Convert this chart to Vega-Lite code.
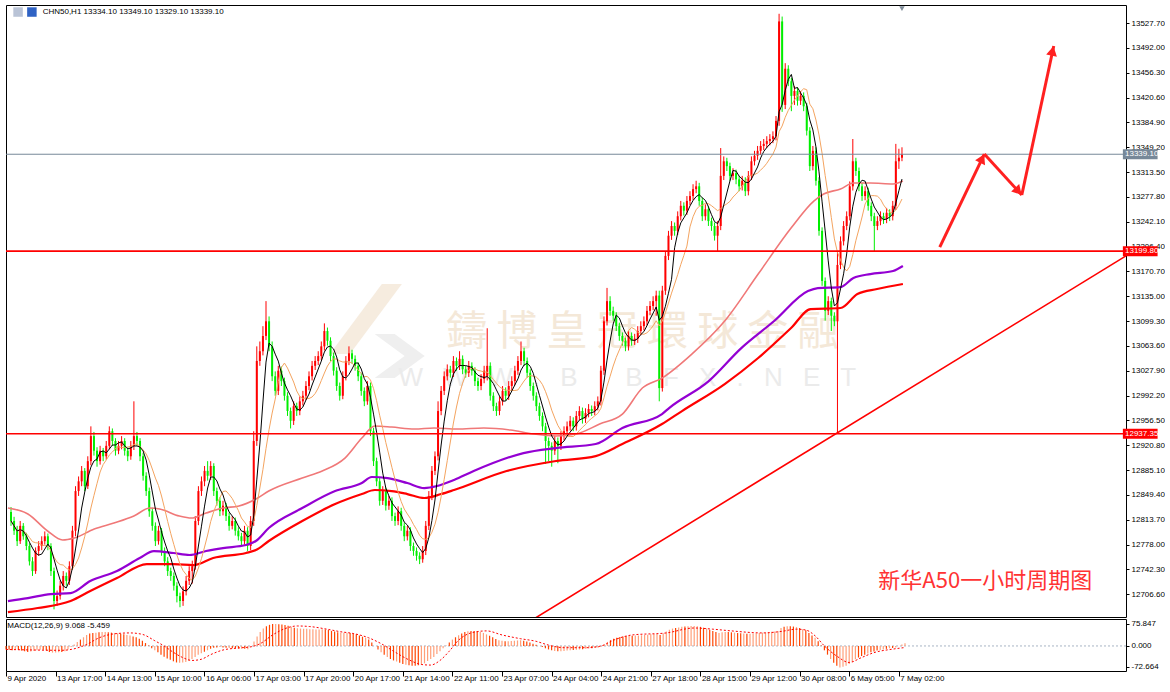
{
"$schema":"https://vega.github.io/schema/vega-lite/v6.json",
"background":"#ffffff",
"padding":{"left":3,"top":4,"right":0,"bottom":0},
"spacing":0,
"config":{"view":{"stroke":"#000000","strokeWidth":1},"axis":{"labelFont":"Liberation Sans","labelFontSize":8,"labelColor":"#000000","tickColor":"#000000","domainColor":"#000000","grid":false}},
"datasets":{
"bars":[
{"i":0,"o":12825,"h":12832,"l":12805,"c":12812,"m":-12},{"i":1,"o":12812,"h":12818,"l":12792,"c":12798,"m":-13},{"i":2,"o":12798,"h":12805,"l":12776,"c":12783,"m":-15},{"i":3,"o":12783,"h":12812,"l":12779,"c":12805,"m":-13},{"i":4,"o":12805,"h":12809,"l":12785,"c":12790,"m":-14},{"i":5,"o":12790,"h":12795,"l":12770,"c":12776,"m":-16},{"i":6,"o":12776,"h":12780,"l":12748,"c":12754,"m":-18},{"i":7,"o":12754,"h":12760,"l":12733,"c":12740,"m":-21},{"i":8,"o":12740,"h":12774,"l":12736,"c":12769,"m":-19},{"i":9,"o":12769,"h":12783,"l":12762,"c":12776,"m":-17},
{"i":10,"o":12776,"h":12790,"l":12770,"c":12783,"m":-15},{"i":11,"o":12783,"h":12797,"l":12778,"c":12790,"m":-13},{"i":12,"o":12790,"h":12794,"l":12770,"c":12776,"m":-13},{"i":13,"o":12776,"h":12780,"l":12733,"c":12740,"m":-16},{"i":14,"o":12740,"h":12745,"l":12685,"c":12697,"m":-21},{"i":15,"o":12697,"h":12712,"l":12690,"c":12704,"m":-23},{"i":16,"o":12704,"h":12726,"l":12699,"c":12719,"m":-23},{"i":17,"o":12719,"h":12740,"l":12712,"c":12733,"m":-22},{"i":18,"o":12733,"h":12738,"l":12719,"c":12726,"m":-21},{"i":19,"o":12726,"h":12754,"l":12720,"c":12747,"m":-18},
{"i":20,"o":12747,"h":12805,"l":12742,"c":12798,"m":-12},{"i":21,"o":12798,"h":12862,"l":12790,"c":12855,"m":-4},{"i":22,"o":12855,"h":12876,"l":12848,"c":12869,"m":5},{"i":23,"o":12869,"h":12891,"l":12862,"c":12884,"m":14},{"i":24,"o":12884,"h":12888,"l":12855,"c":12862,"m":22},{"i":25,"o":12862,"h":12905,"l":12858,"c":12898,"m":30},{"i":26,"o":12898,"h":12948,"l":12892,"c":12934,"m":38},{"i":27,"o":12934,"h":12940,"l":12906,"c":12913,"m":43},{"i":28,"o":12913,"h":12918,"l":12890,"c":12898,"m":45},{"i":29,"o":12898,"h":12920,"l":12893,"c":12913,"m":46},
{"i":30,"o":12913,"h":12917,"l":12898,"c":12905,"m":47},{"i":31,"o":12905,"h":12927,"l":12900,"c":12920,"m":48},{"i":32,"o":12920,"h":12948,"l":12915,"c":12941,"m":48},{"i":33,"o":12941,"h":12945,"l":12920,"c":12927,"m":47},{"i":34,"o":12927,"h":12931,"l":12906,"c":12913,"m":46},{"i":35,"o":12913,"h":12927,"l":12908,"c":12920,"m":45},{"i":36,"o":12920,"h":12934,"l":12915,"c":12927,"m":44},{"i":37,"o":12927,"h":12931,"l":12906,"c":12913,"m":42},{"i":38,"o":12913,"h":12918,"l":12898,"c":12905,"m":40},{"i":39,"o":12905,"h":12927,"l":12900,"c":12920,"m":38},
{"i":40,"o":12920,"h":12984,"l":12914,"c":12934,"m":36},{"i":41,"o":12934,"h":12940,"l":12920,"c":12927,"m":33},{"i":42,"o":12927,"h":12931,"l":12898,"c":12905,"m":30},{"i":43,"o":12905,"h":12910,"l":12870,"c":12877,"m":25},{"i":44,"o":12877,"h":12882,"l":12848,"c":12855,"m":18},{"i":45,"o":12855,"h":12860,"l":12818,"c":12826,"m":10},{"i":46,"o":12826,"h":12831,"l":12798,"c":12805,"m":2},{"i":47,"o":12805,"h":12810,"l":12776,"c":12783,"m":-8},{"i":48,"o":12783,"h":12805,"l":12778,"c":12798,"m":-15},{"i":49,"o":12798,"h":12802,"l":12762,"c":12769,"m":-22},
{"i":50,"o":12769,"h":12774,"l":12747,"c":12754,"m":-30},{"i":51,"o":12754,"h":12760,"l":12733,"c":12740,"m":-37},{"i":52,"o":12740,"h":12745,"l":12726,"c":12733,"m":-43},{"i":53,"o":12733,"h":12738,"l":12712,"c":12719,"m":-48},{"i":54,"o":12719,"h":12724,"l":12695,"c":12704,"m":-53},{"i":55,"o":12704,"h":12709,"l":12688,"c":12697,"m":-57},{"i":56,"o":12697,"h":12718,"l":12690,"c":12711,"m":-58},{"i":57,"o":12711,"h":12733,"l":12705,"c":12726,"m":-57},{"i":58,"o":12726,"h":12747,"l":12720,"c":12740,"m":-55},{"i":59,"o":12740,"h":12755,"l":12722,"c":12747,"m":-52},
{"i":60,"o":12747,"h":12819,"l":12742,"c":12812,"m":-45},{"i":61,"o":12812,"h":12862,"l":12806,"c":12855,"m":-38},{"i":62,"o":12855,"h":12876,"l":12848,"c":12869,"m":-30},{"i":63,"o":12869,"h":12891,"l":12862,"c":12884,"m":-25},{"i":64,"o":12884,"h":12898,"l":12870,"c":12877,"m":-20},{"i":65,"o":12877,"h":12898,"l":12871,"c":12891,"m":-15},{"i":66,"o":12891,"h":12895,"l":12848,"c":12855,"m":-10},{"i":67,"o":12855,"h":12860,"l":12834,"c":12841,"m":-6},{"i":68,"o":12841,"h":12846,"l":12819,"c":12826,"m":-5},{"i":69,"o":12826,"h":12841,"l":12820,"c":12834,"m":-4},
{"i":70,"o":12834,"h":12838,"l":12812,"c":12819,"m":-5},{"i":71,"o":12819,"h":12824,"l":12798,"c":12805,"m":-6},{"i":72,"o":12805,"h":12819,"l":12800,"c":12812,"m":-7},{"i":73,"o":12812,"h":12817,"l":12791,"c":12798,"m":-8},{"i":74,"o":12798,"h":12803,"l":12784,"c":12790,"m":-8},{"i":75,"o":12790,"h":12795,"l":12776,"c":12783,"m":-9},{"i":76,"o":12783,"h":12805,"l":12778,"c":12798,"m":-10},{"i":77,"o":12798,"h":12803,"l":12769,"c":12776,"m":-10},{"i":78,"o":12776,"h":12819,"l":12770,"c":12812,"m":-11},{"i":79,"o":12812,"h":12941,"l":12805,"c":12927,"m":-2},
{"i":80,"o":12927,"h":13063,"l":12920,"c":13042,"m":15},{"i":81,"o":13042,"h":13070,"l":13035,"c":13056,"m":33},{"i":82,"o":13056,"h":13092,"l":13050,"c":13078,"m":48},{"i":83,"o":13078,"h":13128,"l":13072,"c":13099,"m":60},{"i":84,"o":13099,"h":13106,"l":13056,"c":13063,"m":68},{"i":85,"o":13063,"h":13070,"l":13013,"c":13020,"m":73},{"i":86,"o":13020,"h":13027,"l":12992,"c":12999,"m":76},{"i":87,"o":12999,"h":13035,"l":12993,"c":13028,"m":76},{"i":88,"o":13028,"h":13034,"l":13006,"c":13013,"m":75},{"i":89,"o":13013,"h":13018,"l":12985,"c":12992,"m":74},
{"i":90,"o":12992,"h":12997,"l":12963,"c":12970,"m":72},{"i":91,"o":12970,"h":12975,"l":12945,"c":12956,"m":70},{"i":92,"o":12956,"h":12984,"l":12950,"c":12977,"m":66},{"i":93,"o":12977,"h":12982,"l":12963,"c":12970,"m":63},{"i":94,"o":12970,"h":12991,"l":12964,"c":12984,"m":61},{"i":95,"o":12984,"h":12999,"l":12978,"c":12992,"m":60},{"i":96,"o":12992,"h":13013,"l":12986,"c":13006,"m":59},{"i":97,"o":13006,"h":13027,"l":13000,"c":13020,"m":59},{"i":98,"o":13020,"h":13042,"l":13014,"c":13035,"m":58},{"i":99,"o":13035,"h":13049,"l":13029,"c":13042,"m":58},
{"i":100,"o":13042,"h":13056,"l":13036,"c":13049,"m":57},{"i":101,"o":13049,"h":13070,"l":13043,"c":13063,"m":57},{"i":102,"o":13063,"h":13096,"l":13057,"c":13085,"m":58},{"i":103,"o":13085,"h":13090,"l":13064,"c":13071,"m":57},{"i":104,"o":13071,"h":13076,"l":13042,"c":13049,"m":55},{"i":105,"o":13049,"h":13054,"l":13021,"c":13028,"m":52},{"i":106,"o":13028,"h":13033,"l":12999,"c":13006,"m":50},{"i":107,"o":13006,"h":13011,"l":12985,"c":12992,"m":47},{"i":108,"o":12992,"h":13027,"l":12987,"c":13020,"m":46},{"i":109,"o":13020,"h":13049,"l":13014,"c":13042,"m":46},
{"i":110,"o":13042,"h":13063,"l":13036,"c":13053,"m":46},{"i":111,"o":13053,"h":13058,"l":13038,"c":13045,"m":45},{"i":112,"o":13045,"h":13050,"l":13028,"c":13035,"m":43},{"i":113,"o":13035,"h":13040,"l":13013,"c":13020,"m":40},{"i":114,"o":13020,"h":13025,"l":12992,"c":12999,"m":36},{"i":115,"o":12999,"h":13004,"l":12977,"c":12984,"m":32},{"i":116,"o":12984,"h":13013,"l":12979,"c":13006,"m":28},{"i":117,"o":13006,"h":13011,"l":12934,"c":12941,"m":22},{"i":118,"o":12941,"h":12946,"l":12891,"c":12898,"m":12},{"i":119,"o":12898,"h":12903,"l":12862,"c":12869,"m":0},
{"i":120,"o":12869,"h":12874,"l":12834,"c":12841,"m":-12},{"i":121,"o":12841,"h":12862,"l":12835,"c":12855,"m":-22},{"i":122,"o":12855,"h":12860,"l":12827,"c":12834,"m":-30},{"i":123,"o":12834,"h":12848,"l":12828,"c":12841,"m":-38},{"i":124,"o":12841,"h":12846,"l":12812,"c":12819,"m":-45},{"i":125,"o":12819,"h":12824,"l":12805,"c":12812,"m":-50},{"i":126,"o":12812,"h":12833,"l":12806,"c":12826,"m":-54},{"i":127,"o":12826,"h":12831,"l":12798,"c":12805,"m":-58},{"i":128,"o":12805,"h":12810,"l":12783,"c":12790,"m":-62},{"i":129,"o":12790,"h":12805,"l":12784,"c":12798,"m":-65},
{"i":130,"o":12798,"h":12803,"l":12769,"c":12776,"m":-67},{"i":131,"o":12776,"h":12781,"l":12762,"c":12769,"m":-68},{"i":132,"o":12769,"h":12774,"l":12755,"c":12762,"m":-68},{"i":133,"o":12762,"h":12767,"l":12750,"c":12757,"m":-67},{"i":134,"o":12757,"h":12776,"l":12752,"c":12769,"m":-65},{"i":135,"o":12769,"h":12812,"l":12763,"c":12805,"m":-60},{"i":136,"o":12805,"h":12855,"l":12799,"c":12848,"m":-52},{"i":137,"o":12848,"h":12891,"l":12842,"c":12884,"m":-45},{"i":138,"o":12884,"h":12912,"l":12878,"c":12905,"m":-38},{"i":139,"o":12905,"h":12984,"l":12899,"c":12970,"m":-28},
{"i":140,"o":12970,"h":13006,"l":12964,"c":12999,"m":-18},{"i":141,"o":12999,"h":13027,"l":12993,"c":13020,"m":-8},{"i":142,"o":13020,"h":13037,"l":13014,"c":13030,"m":2},{"i":143,"o":13030,"h":13035,"l":13018,"c":13025,"m":12},{"i":144,"o":13025,"h":13049,"l":13019,"c":13042,"m":22},{"i":145,"o":13042,"h":13047,"l":13028,"c":13035,"m":30},{"i":146,"o":13035,"h":13056,"l":13029,"c":13045,"m":37},{"i":147,"o":13045,"h":13050,"l":13023,"c":13030,"m":43},{"i":148,"o":13030,"h":13035,"l":13018,"c":13025,"m":48},{"i":149,"o":13025,"h":13042,"l":13019,"c":13035,"m":51},
{"i":150,"o":13035,"h":13040,"l":13021,"c":13028,"m":52},{"i":151,"o":13028,"h":13033,"l":13006,"c":13013,"m":52},{"i":152,"o":13013,"h":13018,"l":12999,"c":13006,"m":51},{"i":153,"o":13006,"h":13023,"l":13000,"c":13016,"m":48},{"i":154,"o":13016,"h":13035,"l":13010,"c":13028,"m":45},{"i":155,"o":13020,"h":13089,"l":13014,"c":13035,"m":40},{"i":156,"o":13035,"h":13040,"l":12985,"c":12992,"m":35},{"i":157,"o":12992,"h":12997,"l":12970,"c":12977,"m":30},{"i":158,"o":12977,"h":12982,"l":12963,"c":12970,"m":24},{"i":159,"o":12970,"h":12991,"l":12964,"c":12984,"m":20},
{"i":160,"o":12984,"h":13006,"l":12978,"c":12999,"m":18},{"i":161,"o":12999,"h":13004,"l":12985,"c":12992,"m":16},{"i":162,"o":12992,"h":13013,"l":12986,"c":13006,"m":16},{"i":163,"o":13006,"h":13020,"l":13000,"c":13013,"m":17},{"i":164,"o":13013,"h":13035,"l":13007,"c":13028,"m":18},{"i":165,"o":13028,"h":13049,"l":13022,"c":13042,"m":19},{"i":166,"o":13042,"h":13070,"l":13036,"c":13056,"m":20},{"i":167,"o":13056,"h":13061,"l":13035,"c":13042,"m":18},{"i":168,"o":13042,"h":13047,"l":13018,"c":13025,"m":15},{"i":169,"o":13025,"h":13030,"l":12999,"c":13006,"m":12},
{"i":170,"o":13006,"h":13011,"l":12985,"c":12992,"m":8},{"i":171,"o":12992,"h":12997,"l":12970,"c":12977,"m":4},{"i":172,"o":12977,"h":12982,"l":12956,"c":12963,"m":0},{"i":173,"o":12963,"h":12968,"l":12941,"c":12948,"m":-4},{"i":174,"o":12948,"h":12953,"l":12894,"c":12927,"m":-8},{"i":175,"o":12927,"h":12932,"l":12898,"c":12920,"m":-12},{"i":176,"o":12920,"h":12925,"l":12890,"c":12913,"m":-15},{"i":177,"o":12913,"h":12934,"l":12907,"c":12927,"m":-17},{"i":178,"o":12927,"h":12932,"l":12895,"c":12920,"m":-18},{"i":179,"o":12920,"h":12941,"l":12914,"c":12934,"m":-18},
{"i":180,"o":12934,"h":12948,"l":12928,"c":12941,"m":-17},{"i":181,"o":12941,"h":12955,"l":12935,"c":12948,"m":-16},{"i":182,"o":12948,"h":12963,"l":12942,"c":12956,"m":-15},{"i":183,"o":12956,"h":12961,"l":12941,"c":12948,"m":-14},{"i":184,"o":12948,"h":12970,"l":12942,"c":12963,"m":-13},{"i":185,"o":12963,"h":12977,"l":12957,"c":12970,"m":-12},{"i":186,"o":12970,"h":12975,"l":12952,"c":12959,"m":-11},{"i":187,"o":12959,"h":12974,"l":12953,"c":12967,"m":-10},{"i":188,"o":12967,"h":12980,"l":12961,"c":12973,"m":-9},{"i":189,"o":12973,"h":12978,"l":12963,"c":12970,"m":-8},
{"i":190,"o":12970,"h":12984,"l":12964,"c":12977,"m":-7},{"i":191,"o":12977,"h":12991,"l":12971,"c":12984,"m":-6},{"i":192,"o":12984,"h":13035,"l":12978,"c":13028,"m":-2},{"i":193,"o":13028,"h":13106,"l":13022,"c":13099,"m":6},{"i":194,"o":13099,"h":13147,"l":13093,"c":13128,"m":14},{"i":195,"o":13128,"h":13135,"l":13107,"c":13114,"m":20},{"i":196,"o":13114,"h":13120,"l":13100,"c":13107,"m":25},{"i":197,"o":13107,"h":13112,"l":13085,"c":13092,"m":28},{"i":198,"o":13092,"h":13097,"l":13071,"c":13078,"m":31},{"i":199,"o":13078,"h":13083,"l":13064,"c":13071,"m":33},
{"i":200,"o":13071,"h":13076,"l":13056,"c":13063,"m":34},{"i":201,"o":13063,"h":13085,"l":13057,"c":13078,"m":35},{"i":202,"o":13078,"h":13083,"l":13064,"c":13071,"m":35},{"i":203,"o":13071,"h":13081,"l":13065,"c":13074,"m":36},{"i":204,"o":13074,"h":13092,"l":13068,"c":13085,"m":36},{"i":205,"o":13085,"h":13099,"l":13079,"c":13092,"m":37},{"i":206,"o":13092,"h":13106,"l":13086,"c":13099,"m":38},{"i":207,"o":13099,"h":13121,"l":13093,"c":13114,"m":39},{"i":208,"o":13114,"h":13128,"l":13108,"c":13121,"m":40},{"i":209,"o":13121,"h":13135,"l":13115,"c":13128,"m":41},
{"i":210,"o":13128,"h":13143,"l":13107,"c":13136,"m":41},{"i":211,"o":13136,"h":13143,"l":12984,"c":13003,"m":38},{"i":212,"o":13003,"h":13150,"l":12998,"c":13143,"m":44},{"i":213,"o":13143,"h":13200,"l":13137,"c":13193,"m":50},{"i":214,"o":13193,"h":13229,"l":13187,"c":13222,"m":56},{"i":215,"o":13222,"h":13243,"l":13216,"c":13236,"m":60},{"i":216,"o":13236,"h":13241,"l":13222,"c":13229,"m":62},{"i":217,"o":13229,"h":13257,"l":13223,"c":13250,"m":64},{"i":218,"o":13250,"h":13272,"l":13244,"c":13265,"m":66},{"i":219,"o":13265,"h":13270,"l":13251,"c":13258,"m":67},
{"i":220,"o":13258,"h":13279,"l":13252,"c":13272,"m":68},{"i":221,"o":13272,"h":13286,"l":13266,"c":13279,"m":69},{"i":222,"o":13279,"h":13296,"l":13273,"c":13289,"m":69},{"i":223,"o":13289,"h":13301,"l":13283,"c":13293,"m":68},{"i":224,"o":13293,"h":13298,"l":13265,"c":13272,"m":66},{"i":225,"o":13272,"h":13277,"l":13243,"c":13250,"m":63},{"i":226,"o":13250,"h":13267,"l":13244,"c":13260,"m":60},{"i":227,"o":13260,"h":13265,"l":13236,"c":13243,"m":56},{"i":228,"o":13243,"h":13248,"l":13229,"c":13236,"m":52},{"i":229,"o":13236,"h":13241,"l":13215,"c":13222,"m":48},
{"i":230,"o":13222,"h":13243,"l":13200,"c":13236,"m":45},{"i":231,"o":13236,"h":13348,"l":13230,"c":13308,"m":47},{"i":232,"o":13308,"h":13336,"l":13302,"c":13329,"m":48},{"i":233,"o":13329,"h":13334,"l":13315,"c":13322,"m":48},{"i":234,"o":13322,"h":13327,"l":13301,"c":13308,"m":47},{"i":235,"o":13308,"h":13319,"l":13302,"c":13312,"m":46},{"i":236,"o":13312,"h":13317,"l":13296,"c":13303,"m":45},{"i":237,"o":13303,"h":13308,"l":13286,"c":13293,"m":44},{"i":238,"o":13293,"h":13308,"l":13287,"c":13301,"m":43},{"i":239,"o":13301,"h":13306,"l":13279,"c":13286,"m":42},
{"i":240,"o":13286,"h":13315,"l":13280,"c":13308,"m":42},{"i":241,"o":13308,"h":13336,"l":13302,"c":13329,"m":43},{"i":242,"o":13329,"h":13344,"l":13323,"c":13337,"m":44},{"i":243,"o":13337,"h":13351,"l":13331,"c":13344,"m":45},{"i":244,"o":13344,"h":13358,"l":13338,"c":13351,"m":46},{"i":245,"o":13351,"h":13361,"l":13345,"c":13354,"m":47},{"i":246,"o":13354,"h":13365,"l":13348,"c":13358,"m":48},{"i":247,"o":13358,"h":13368,"l":13352,"c":13361,"m":49},{"i":248,"o":13361,"h":13372,"l":13355,"c":13365,"m":50},{"i":249,"o":13365,"h":13394,"l":13359,"c":13387,"m":52},
{"i":250,"o":13387,"h":13541,"l":13380,"c":13530,"m":62},{"i":251,"o":13530,"h":13537,"l":13400,"c":13410,"m":66},{"i":252,"o":13410,"h":13470,"l":13404,"c":13462,"m":68},{"i":253,"o":13462,"h":13467,"l":13437,"c":13444,"m":68},{"i":254,"o":13444,"h":13449,"l":13401,"c":13423,"m":67},{"i":255,"o":13423,"h":13437,"l":13410,"c":13430,"m":65},{"i":256,"o":13430,"h":13435,"l":13409,"c":13416,"m":62},{"i":257,"o":13416,"h":13430,"l":13410,"c":13423,"m":58},{"i":258,"o":13423,"h":13428,"l":13401,"c":13408,"m":54},{"i":259,"o":13408,"h":13413,"l":13366,"c":13373,"m":45},
{"i":260,"o":13373,"h":13378,"l":13315,"c":13322,"m":36},{"i":261,"o":13322,"h":13351,"l":13316,"c":13344,"m":28},{"i":262,"o":13344,"h":13349,"l":13294,"c":13301,"m":16},{"i":263,"o":13301,"h":13306,"l":13222,"c":13229,"m":2},{"i":264,"o":13229,"h":13234,"l":13150,"c":13157,"m":-15},{"i":265,"o":13157,"h":13162,"l":13100,"c":13114,"m":-30},{"i":266,"o":13114,"h":13135,"l":13108,"c":13128,"m":-45},{"i":267,"o":13128,"h":13133,"l":13085,"c":13107,"m":-58},{"i":268,"o":13107,"h":13112,"l":13092,"c":13099,"m":-68},{"i":269,"o":13099,"h":13200,"l":12937,"c":13180,"m":-74},
{"i":270,"o":13180,"h":13221,"l":13174,"c":13214,"m":-72},{"i":271,"o":13214,"h":13243,"l":13208,"c":13236,"m":-68},{"i":272,"o":13236,"h":13257,"l":13230,"c":13250,"m":-62},{"i":273,"o":13250,"h":13300,"l":13244,"c":13293,"m":-55},{"i":274,"o":13293,"h":13361,"l":13287,"c":13329,"m":-46},{"i":275,"o":13329,"h":13334,"l":13308,"c":13315,"m":-40},{"i":276,"o":13315,"h":13320,"l":13286,"c":13293,"m":-35},{"i":277,"o":13293,"h":13298,"l":13272,"c":13279,"m":-30},{"i":278,"o":13279,"h":13293,"l":13273,"c":13286,"m":-26},{"i":279,"o":13286,"h":13291,"l":13258,"c":13265,"m":-22},
{"i":280,"o":13265,"h":13270,"l":13243,"c":13250,"m":-19},{"i":281,"o":13250,"h":13255,"l":13200,"c":13236,"m":-16},{"i":282,"o":13236,"h":13250,"l":13230,"c":13243,"m":-14},{"i":283,"o":13243,"h":13257,"l":13237,"c":13250,"m":-12},{"i":284,"o":13250,"h":13255,"l":13239,"c":13246,"m":-10},{"i":285,"o":13246,"h":13262,"l":13240,"c":13255,"m":-8},{"i":286,"o":13255,"h":13260,"l":13243,"c":13250,"m":-7},{"i":287,"o":13250,"h":13272,"l":13244,"c":13265,"m":-5},{"i":288,"o":13265,"h":13354,"l":13259,"c":13329,"m":0},{"i":289,"o":13329,"h":13347,"l":13318,"c":13334.1,"m":5},
{"i":290,"o":13334.1,"h":13349.1,"l":13329.1,"c":13339.1,"m":9.068}
],
"sal":[{"i":-1,"p":12830.6},{"i":5.5,"p":12822},{"i":11.9,"p":12797.6},{"i":16.8,"p":12784.6},{"i":20.6,"p":12787.5},{"i":27.1,"p":12800.4},{"i":33.5,"p":12809},{"i":40,"p":12819.1},{"i":45.2,"p":12830.6},{"i":48.4,"p":12829.2},{"i":54.8,"p":12819.1},{"i":58.7,"p":12816.2},{"i":63.5,"p":12823.4},{"i":69,"p":12830.6},{"i":74.2,"p":12833.5},{"i":79.7,"p":12843.5},{"i":83.9,"p":12855},{"i":94.8,"p":12873.7},{"i":101.3,"p":12883.8},{"i":108.7,"p":12902.4},{"i":114.2,"p":12931.2},{"i":118.4,"p":12948.5},{"i":123.9,"p":12947},{"i":131.3,"p":12944.1},{"i":137.7,"p":12945.6},{"i":145.2,"p":12944.1},{"i":153.9,"p":12945.6},{"i":162.6,"p":12942.7},{"i":170,"p":12937},{"i":177.4,"p":12934.1},{"i":183.9,"p":12937},{"i":191.6,"p":12951.3},{"i":199,"p":12965.7},{"i":205.5,"p":13003.1},{"i":211.9,"p":13017.4},{"i":221.6,"p":13051.9},{"i":232.3,"p":13099.4},{"i":243.2,"p":13166.9},{"i":253.9,"p":13233},{"i":261.3,"p":13271.8},{"i":264.5,"p":13281.9},{"i":270,"p":13289.1},{"i":274.2,"p":13297.7},{"i":279.7,"p":13297.7},{"i":287.1,"p":13296.3},{"i":290.3,"p":13300.6}],
"pur":[{"i":-1,"p":12696.9},{"i":5.5,"p":12701.2},{"i":12.9,"p":12707},{"i":19.4,"p":12708.4},{"i":25.8,"p":12725.7},{"i":34.5,"p":12740.1},{"i":41.9,"p":12758.8},{"i":46.5,"p":12768.8},{"i":52.9,"p":12766},{"i":58.1,"p":12763.1},{"i":63.5,"p":12768.8},{"i":69,"p":12773.1},{"i":76.5,"p":12777.4},{"i":79.7,"p":12783.2},{"i":83.9,"p":12801.9},{"i":94.8,"p":12830.6},{"i":105.5,"p":12855},{"i":114.2,"p":12866.5},{"i":117.4,"p":12875.2},{"i":122.6,"p":12873.7},{"i":129,"p":12866.5},{"i":134.5,"p":12859.3},{"i":138.7,"p":12862.2},{"i":144.2,"p":12870.9},{"i":150.6,"p":12883.8},{"i":166.8,"p":12909.6},{"i":177.4,"p":12916.8},{"i":190.3,"p":12922.6},{"i":199,"p":12945.6},{"i":211.9,"p":12965.7},{"i":214.2,"p":12974.3},{"i":227.1,"p":13013.1},{"i":237.7,"p":13060.5},{"i":248.4,"p":13099.4},{"i":259.4,"p":13142.5},{"i":262.6,"p":13146.8},{"i":270,"p":13148.2},{"i":274.2,"p":13161.2},{"i":279.7,"p":13166.9},{"i":287.1,"p":13171.3},{"i":290.3,"p":13178.4}],
"redma":[{"i":-1,"p":12681.1},{"i":8.7,"p":12686.9},{"i":19.4,"p":12696.9},{"i":25.8,"p":12711.3},{"i":34.5,"p":12730},{"i":44.2,"p":12750.1},{"i":52.9,"p":12750.1},{"i":59.4,"p":12748.7},{"i":65.8,"p":12758.8},{"i":76.5,"p":12766},{"i":79.7,"p":12770.2},{"i":83.9,"p":12783.2},{"i":94.8,"p":12811.9},{"i":105.5,"p":12836.3},{"i":114.2,"p":12850.7},{"i":118.4,"p":12856.5},{"i":123.9,"p":12855},{"i":129,"p":12850.7},{"i":134.5,"p":12845},{"i":140,"p":12850.7},{"i":144.2,"p":12856.5},{"i":161.3,"p":12883.8},{"i":177.4,"p":12898.2},{"i":190.3,"p":12905.3},{"i":199,"p":12922.6},{"i":211.9,"p":12951.3},{"i":218.4,"p":12970},{"i":232.3,"p":13008.8},{"i":243.2,"p":13046.2},{"i":253.9,"p":13089.3},{"i":260.3,"p":13116.6},{"i":270,"p":13118.1},{"i":275.5,"p":13138.2},{"i":281.9,"p":13145.4},{"i":290.3,"p":13152.6}],
"sig":[{"i":0,"s":-12},{"i":9,"s":-14},{"i":18,"s":-15},{"i":21,"s":-12},{"i":26,"s":5},{"i":30,"s":28},{"i":35,"s":42},{"i":40,"s":45},{"i":44,"s":40},{"i":48,"s":18},{"i":51,"s":0},{"i":54,"s":-22},{"i":57,"s":-40},{"i":60,"s":-50},{"i":63,"s":-46},{"i":66,"s":-30},{"i":70,"s":-14},{"i":75,"s":-7},{"i":79,"s":-3},{"i":82,"s":8},{"i":86,"s":38},{"i":90,"s":60},{"i":94,"s":69},{"i":98,"s":67},{"i":104,"s":57},{"i":108,"s":49},{"i":112,"s":43},{"i":117,"s":28},{"i":121,"s":8},{"i":125,"s":-18},{"i":130,"s":-48},{"i":134,"s":-64},{"i":137,"s":-66},{"i":140,"s":-50},{"i":143,"s":-18},{"i":146,"s":20},{"i":150,"s":45},{"i":155,"s":52},{"i":160,"s":38},{"i":166,"s":25},{"i":171,"s":16},{"i":175,"s":3},{"i":180,"s":-6},{"i":187,"s":-6},{"i":192,"s":0},{"i":196,"s":20},{"i":202,"s":38},{"i":213,"s":45},{"i":222,"s":62},{"i":228,"s":58},{"i":234,"s":52},{"i":244,"s":45},{"i":250,"s":50},{"i":255,"s":58},{"i":258,"s":55},{"i":261,"s":35},{"i":264,"s":0},{"i":268,"s":-35},{"i":272,"s":-57},{"i":276,"s":-40},{"i":280,"s":-23},{"i":286,"s":-11},{"i":290,"s":-5.459}],
"trend":[{"i":160,"p":12643.7},{"i":370,"p":13212.2}],
"arr":[{"g":"a","i":302.3,"p":13205.7},{"g":"a","i":316.8,"p":13339.4},{"g":"b","i":316.8,"p":13339.4},{"g":"b","i":329.0,"p":13280.5},{"g":"c","i":329.0,"p":13280.5},{"g":"c","i":339.4,"p":13494.6}]
},
"vconcat":[
{"width":1120,"height":612,
"layer":[
{"data":{"values":[{}]},"mark":{"type":"point","shape":"M0.4,-0.875L0.9,-0.875L-0.4,0.875L-0.9,0.875Z","filled":true,"color":"#f6ecdf","opacity":1,"size":6400,"strokeWidth":0},"encoding":{"x":{"datum":115.5,"type":"quantitative","scale":{"domain":[0,361.29],"nice":false,"zero":false},"axis":null},"y":{"datum":13102.2,"type":"quantitative","title":null,"scale":{"domain":[12674,13553.6],"nice":false,"zero":false}}}},
{"data":{"values":[{}]},"mark":{"type":"point","shape":"M-0.833,-0.733L-0.167,-0.733L0.833,0L-0.167,0.733L-0.833,0.733L0.167,0Z","filled":true,"color":"#efefef","opacity":1,"size":3600,"strokeWidth":0},"encoding":{"x":{"datum":126.5,"type":"quantitative","scale":{"domain":[0,361.29],"nice":false,"zero":false},"axis":null},"y":{"datum":13049.1,"type":"quantitative","title":null,"scale":{"domain":[12674,13553.6],"nice":false,"zero":false}}}},
{"data":{"values":[{}]},"mark":{"type":"text","text":"鑄 博 皇 冠 環 球 金 融","font":"Noto Sans CJK TC","fontSize":41,"color":"#f4e8d8","align":"center","baseline":"middle"},"encoding":{"x":{"datum":205.5,"type":"quantitative","scale":{"domain":[0,361.29],"nice":false,"zero":false},"axis":null},"y":{"datum":13082,"type":"quantitative","title":null,"scale":{"domain":[12674,13553.6],"nice":false,"zero":false}}}},
{"data":{"values":[{}]},"mark":{"type":"text","text":"W\u2002 W\u2002 W\u2002 .\u2002 B\u2002 I\u2002 B\u2002 F\u2002 X\u2002 .\u2002 N\u2002 E\u2002 T","font":"Liberation Sans","fontSize":26,"color":"#ebebeb","align":"center","baseline":"middle"},"encoding":{"x":{"datum":200.6,"type":"quantitative","scale":{"domain":[0,361.29],"nice":false,"zero":false},"axis":null},"y":{"datum":13017.5,"type":"quantitative","title":null,"scale":{"domain":[12674,13553.6],"nice":false,"zero":false}}}},
{"data":{"name":"bars"},"mark":{"type":"rule","strokeWidth":1},"encoding":{"x":{"field":"i","type":"quantitative","scale":{"domain":[0,361.29],"nice":false,"zero":false},"axis":null},"y":{"field":"l","type":"quantitative","title":null,"scale":{"domain":[12674,13553.6],"nice":false,"zero":false},"axis":{"orient":"right","title":null,"values":[13527.7,13492,13456.3,13420.6,13384.9,13349.2,13313.5,13277.8,13242.1,13206.4,13170.7,13135,13099.3,13063.6,13027.9,12992.2,12956.5,12920.8,12885.1,12849.4,12813.7,12778,12742.3,12706.6],"tickCount":100,"format":".2f","tickSize":3,"labelPadding":2,"labelBaseline":"middle","labelOverlap":false,"domain":false}},"y2":{"field":"h"},"color":{"condition":{"test":"datum.c >= datum.o","value":"#ff0000"},"value":"#00ee00"}}},
{"data":{"name":"bars"},"mark":{"type":"bar","width":2},"encoding":{"x":{"field":"i","type":"quantitative","scale":{"domain":[0,361.29],"nice":false,"zero":false},"axis":null},"y":{"field":"o","type":"quantitative","title":null,"scale":{"domain":[12674,13553.6],"nice":false,"zero":false}},"y2":{"field":"c"},"color":{"condition":{"test":"datum.c >= datum.o","value":"#ff0000"},"value":"#00ee00"}}},
{"data":{"name":"sal"},"mark":{"type":"line","color":"#f07878","strokeWidth":1.6,"interpolate":"monotone"},"encoding":{"x":{"field":"i","type":"quantitative","scale":{"domain":[0,361.29],"nice":false,"zero":false},"axis":null},"y":{"field":"p","type":"quantitative","title":null,"scale":{"domain":[12674,13553.6],"nice":false,"zero":false}}}},
{"data":{"name":"pur"},"mark":{"type":"line","color":"#9400d3","strokeWidth":2.2,"interpolate":"monotone"},"encoding":{"x":{"field":"i","type":"quantitative","scale":{"domain":[0,361.29],"nice":false,"zero":false},"axis":null},"y":{"field":"p","type":"quantitative","title":null,"scale":{"domain":[12674,13553.6],"nice":false,"zero":false}}}},
{"data":{"name":"redma"},"mark":{"type":"line","color":"#ff0000","strokeWidth":2.2,"interpolate":"monotone"},"encoding":{"x":{"field":"i","type":"quantitative","scale":{"domain":[0,361.29],"nice":false,"zero":false},"axis":null},"y":{"field":"p","type":"quantitative","title":null,"scale":{"domain":[12674,13553.6],"nice":false,"zero":false}}}},
{"data":{"name":"bars"},"transform":[{"window":[{"op":"mean","field":"c","as":"ma10"}],"frame":[-9,0],"sort":[{"field":"i"}]}],"mark":{"type":"line","color":"#f4a460","strokeWidth":1},"encoding":{"x":{"field":"i","type":"quantitative","scale":{"domain":[0,361.29],"nice":false,"zero":false},"axis":null},"y":{"field":"ma10","type":"quantitative","title":null,"scale":{"domain":[12674,13553.6],"nice":false,"zero":false}}}},
{"data":{"name":"bars"},"transform":[{"window":[{"op":"mean","field":"c","as":"ma5"}],"frame":[-4,0],"sort":[{"field":"i"}]}],"mark":{"type":"line","color":"#000000","strokeWidth":1},"encoding":{"x":{"field":"i","type":"quantitative","scale":{"domain":[0,361.29],"nice":false,"zero":false},"axis":null},"y":{"field":"ma5","type":"quantitative","title":null,"scale":{"domain":[12674,13553.6],"nice":false,"zero":false}}}},
{"data":{"values":[{}]},"mark":{"type":"rule","color":"#778899","strokeWidth":1},"encoding":{"y":{"datum":13339.1,"type":"quantitative","title":null,"scale":{"domain":[12674,13553.6],"nice":false,"zero":false}}}},
{"data":{"values":[{}]},"mark":{"type":"rule","color":"#ff0000","strokeWidth":1.6},"encoding":{"y":{"datum":13199.8,"type":"quantitative","title":null,"scale":{"domain":[12674,13553.6],"nice":false,"zero":false}}}},
{"data":{"values":[{}]},"mark":{"type":"rule","color":"#ff0000","strokeWidth":1.6},"encoding":{"y":{"datum":12937.35,"type":"quantitative","title":null,"scale":{"domain":[12674,13553.6],"nice":false,"zero":false}}}},
{"data":{"name":"trend"},"mark":{"type":"line","color":"#ff0000","strokeWidth":1.6,"clip":true},"encoding":{"x":{"field":"i","type":"quantitative","scale":{"domain":[0,361.29],"nice":false,"zero":false},"axis":null},"y":{"field":"p","type":"quantitative","title":null,"scale":{"domain":[12674,13553.6],"nice":false,"zero":false}}}},
{"data":{"name":"arr"},"mark":{"type":"line","color":"#ff2020","strokeWidth":3},"encoding":{"x":{"field":"i","type":"quantitative","scale":{"domain":[0,361.29],"nice":false,"zero":false},"axis":null},"y":{"field":"p","type":"quantitative","title":null,"scale":{"domain":[12674,13553.6],"nice":false,"zero":false}},"detail":{"field":"g"}}},
{"data":{"values":[{}]},"mark":{"type":"point","shape":"triangle-up","filled":true,"color":"#ff2020","opacity":1,"size":120,"angle":26},"encoding":{"x":{"datum":316.1,"type":"quantitative","scale":{"domain":[0,361.29],"nice":false,"zero":false},"axis":null},"y":{"datum":13333,"type":"quantitative","title":null,"scale":{"domain":[12674,13553.6],"nice":false,"zero":false}}}},
{"data":{"values":[{}]},"mark":{"type":"point","shape":"triangle-up","filled":true,"color":"#ff2020","opacity":1,"size":120,"angle":137},"encoding":{"x":{"datum":327.9,"type":"quantitative","scale":{"domain":[0,361.29],"nice":false,"zero":false},"axis":null},"y":{"datum":13285.8,"type":"quantitative","title":null,"scale":{"domain":[12674,13553.6],"nice":false,"zero":false}}}},
{"data":{"values":[{}]},"mark":{"type":"point","shape":"triangle-up","filled":true,"color":"#ff2020","opacity":1,"size":120,"angle":12},"encoding":{"x":{"datum":339.0,"type":"quantitative","scale":{"domain":[0,361.29],"nice":false,"zero":false},"axis":null},"y":{"datum":13487.6,"type":"quantitative","title":null,"scale":{"domain":[12674,13553.6],"nice":false,"zero":false}}}},
{"data":{"values":[{}]},"mark":{"type":"rule","color":"#778899","strokeWidth":10},"encoding":{"x":{"datum":361.9,"type":"quantitative","scale":{"domain":[0,361.29],"nice":false,"zero":false},"axis":null},"x2":{"datum":373.2},"y":{"datum":13339.1,"type":"quantitative","title":null,"scale":{"domain":[12674,13553.6],"nice":false,"zero":false}}}},
{"data":{"values":[{}]},"mark":{"type":"rule","color":"#ff0000","strokeWidth":10},"encoding":{"x":{"datum":361.9,"type":"quantitative","scale":{"domain":[0,361.29],"nice":false,"zero":false},"axis":null},"x2":{"datum":373.2},"y":{"datum":13199.8,"type":"quantitative","title":null,"scale":{"domain":[12674,13553.6],"nice":false,"zero":false}}}},
{"data":{"values":[{}]},"mark":{"type":"rule","color":"#ff0000","strokeWidth":10},"encoding":{"x":{"datum":361.9,"type":"quantitative","scale":{"domain":[0,361.29],"nice":false,"zero":false},"axis":null},"x2":{"datum":373.2},"y":{"datum":12937.35,"type":"quantitative","title":null,"scale":{"domain":[12674,13553.6],"nice":false,"zero":false}}}},
{"data":{"values":[{"p":13339.1,"t":"13339.10"},{"p":13199.8,"t":"13199.80"},{"p":12937.35,"t":"12937.35"}]},"mark":{"type":"text","color":"#ffffff","font":"Liberation Sans","fontSize":8,"align":"left","baseline":"middle"},"encoding":{"x":{"datum":362.6,"type":"quantitative","scale":{"domain":[0,361.29],"nice":false,"zero":false},"axis":null},"y":{"field":"p","type":"quantitative","title":null,"scale":{"domain":[12674,13553.6],"nice":false,"zero":false}},"text":{"field":"t"}}},
{"data":{"values":[{}]},"mark":{"type":"point","shape":"square","filled":true,"color":"#b9c3d6","opacity":1,"size":90},"encoding":{"x":{"datum":2.3,"type":"quantitative","scale":{"domain":[0,361.29],"nice":false,"zero":false},"axis":null},"y":{"datum":13543.5,"type":"quantitative","title":null,"scale":{"domain":[12674,13553.6],"nice":false,"zero":false}}}},
{"data":{"values":[{}]},"mark":{"type":"point","shape":"square","filled":true,"color":"#2f62c4","opacity":1,"size":90},"encoding":{"x":{"datum":6.8,"type":"quantitative","scale":{"domain":[0,361.29],"nice":false,"zero":false},"axis":null},"y":{"datum":13543.5,"type":"quantitative","title":null,"scale":{"domain":[12674,13553.6],"nice":false,"zero":false}}}},
{"data":{"values":[{}]},"mark":{"type":"text","text":"CHN50,H1  13334.10 13349.10 13329.10 13339.10","color":"#000000","font":"Liberation Sans","fontSize":8,"align":"left","baseline":"middle"},"encoding":{"x":{"datum":10.3,"type":"quantitative","scale":{"domain":[0,361.29],"nice":false,"zero":false},"axis":null},"y":{"datum":13543.5,"type":"quantitative","title":null,"scale":{"domain":[12674,13553.6],"nice":false,"zero":false}}}},
{"data":{"values":[{}]},"mark":{"type":"text","text":"新华A50一小时周期图","color":"#ff3333","font":"Noto Sans CJK SC","fontSize":22,"align":"center","baseline":"middle"},"encoding":{"x":{"datum":317.1,"type":"quantitative","scale":{"domain":[0,361.29],"nice":false,"zero":false},"axis":null},"y":{"datum":12725.7,"type":"quantitative","title":null,"scale":{"domain":[12674,13553.6],"nice":false,"zero":false}}}},
{"data":{"values":[{}]},"mark":{"type":"point","shape":"triangle-down","filled":true,"color":"#7f8c99","opacity":1,"size":30},"encoding":{"x":{"datum":290,"type":"quantitative","scale":{"domain":[0,361.29],"nice":false,"zero":false},"axis":null},"y":{"datum":13548.5,"type":"quantitative","title":null,"scale":{"domain":[12674,13553.6],"nice":false,"zero":false}}}}
]},
{"width":1120,"height":52,
"layer":[
{"data":{"values":[{}]},"mark":{"type":"rule","color":"#a8b4c4","strokeWidth":1,"strokeDash":[2,2]},"encoding":{"y":{"datum":0,"type":"quantitative","title":null,"scale":{"domain":[-86.5,93.1],"nice":false,"zero":false}}}},
{"data":{"name":"bars"},"mark":{"type":"rule","strokeWidth":1.2},"encoding":{"x":{"field":"i","type":"quantitative","title":null,"scale":{"domain":[0,361.29],"nice":false,"zero":false},"axis":{"orient":"bottom","title":null,"values":[0,16,32,48,64,80,96,112,128,144,160,176,192,208,224,240,256,272,288],"tickCount":100,"labelExpr":"['9 Apr 2020','13 Apr 17:00','14 Apr 13:00','15 Apr 10:00','16 Apr 06:00','17 Apr 03:00','17 Apr 20:00','20 Apr 17:00','21 Apr 14:00','22 Apr 11:00','23 Apr 07:00','24 Apr 04:00','24 Apr 21:00','27 Apr 18:00','28 Apr 15:00','29 Apr 12:00','30 Apr 08:00','6 May 05:00','7 May 02:00'][round(datum.value/16)]","labelAlign":"left","labelBaseline":"middle","labelPadding":2,"labelOffset":1,"tickSize":5,"labelOverlap":false,"labelFlush":false,"domain":false}},"y":{"field":"m","type":"quantitative","title":null,"scale":{"domain":[-86.5,93.1],"nice":false,"zero":false},"axis":{"orient":"right","title":null,"values":[75.847,0,-72.664],"tickCount":100,"labelExpr":"datum.value < 0 ? '-' + format(-datum.value, '.3f') : format(datum.value, '.3f')","tickSize":3,"labelPadding":2,"labelBaseline":"middle","labelOverlap":false,"domain":false}},"y2":{"datum":0},"color":{"condition":{"test":"datum.c >= datum.o","value":"#ffa07a"},"value":"#ff4500"}}},
{"data":{"name":"sig"},"mark":{"type":"line","color":"#ff0000","strokeWidth":1,"strokeDash":[2,2],"interpolate":"monotone"},"encoding":{"x":{"field":"i","type":"quantitative","title":null,"scale":{"domain":[0,361.29],"nice":false,"zero":false}},"y":{"field":"s","type":"quantitative","title":null,"scale":{"domain":[-86.5,93.1],"nice":false,"zero":false}}}},
{"data":{"values":[{}]},"mark":{"type":"text","text":"MACD(12,26,9) 9.068 -5.459","color":"#000000","font":"Liberation Sans","fontSize":8,"align":"left","baseline":"middle"},"encoding":{"x":{"datum":0.4,"type":"quantitative","title":null,"scale":{"domain":[0,361.29],"nice":false,"zero":false}},"y":{"datum":68.9,"type":"quantitative","title":null,"scale":{"domain":[-86.5,93.1],"nice":false,"zero":false}}}}
]}
]
}
